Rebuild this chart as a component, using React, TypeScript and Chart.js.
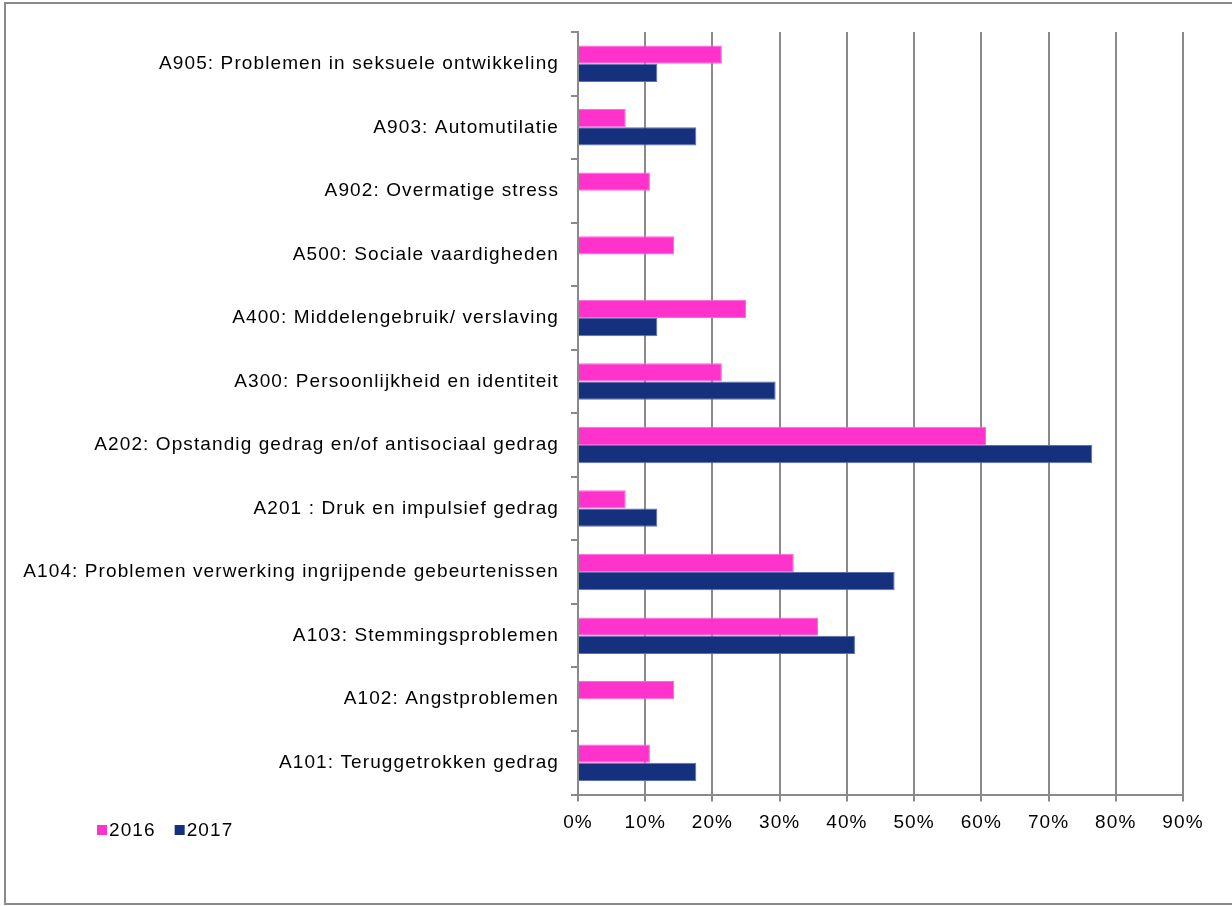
import React, { useEffect, useRef } from "react";
import { Chart, registerables } from "chart.js";

Chart.register(...registerables);

const categories = [
  "A905: Problemen in seksuele ontwikkeling",
  "A903: Automutilatie",
  "A902: Overmatige stress",
  "A500: Sociale vaardigheden",
  "A400: Middelengebruik/ verslaving",
  "A300: Persoonlijkheid en identiteit",
  "A202: Opstandig gedrag en/of antisociaal gedrag",
  "A201 : Druk en impulsief gedrag",
  "A104: Problemen verwerking ingrijpende gebeurtenissen",
  "A103: Stemmingsproblemen",
  "A102: Angstproblemen",
  "A101: Teruggetrokken gedrag",
];

const values2016 = [21.4, 7.1, 10.7, 14.3, 25.0, 21.4, 60.7, 7.1, 32.1, 35.7, 14.3, 10.7];
const values2017 = [11.8, 17.6, 0, 0, 11.8, 29.4, 76.5, 11.8, 47.1, 41.2, 0, 17.6];

const seriesLabels = ["2016", "2017"];
const xTicks = [0, 10, 20, 30, 40, 50, 60, 70, 80, 90];

const PINK = "#FF33CC";
const NAVY = "#15307C";
const FONT = "'Liberation Sans', Arial, sans-serif";
const SPACING = "1.1px";

export default function App() {
  const ref = useRef<HTMLCanvasElement | null>(null);

  useEffect(() => {
    document.body.style.margin = "0";
    const canvas = ref.current;
    if (!canvas) return;

    const framePlugin = {
      id: "frame",
      beforeDraw(chart: any) {
        const ctx = chart.ctx;
        ctx.save();
        ctx.fillStyle = "#ffffff";
        ctx.fillRect(0, 0, chart.width, chart.height);
        ctx.strokeStyle = "#8a8a8a";
        ctx.lineWidth = 2;
        ctx.strokeRect(5, 3, chart.width + 10, 901);
        ctx.restore();
        (ctx as any).letterSpacing = SPACING;
      },
      afterDraw(chart: any) {
        const ctx = chart.ctx;
        ctx.save();
        (ctx as any).letterSpacing = SPACING;
        ctx.font = `19px ${FONT}`;
        ctx.textBaseline = "middle";
        let x = 97;
        const y = 830;
        chart.data.datasets.forEach((ds: any) => {
          ctx.fillStyle = ds.backgroundColor;
          ctx.fillRect(x, y - 5, 10, 10);
          ctx.fillStyle = "#000";
          ctx.textAlign = "left";
          ctx.fillText(ds.label, x + 12, y + 1);
          x += 12 + ctx.measureText(ds.label).width + 19;
        });
        ctx.restore();
      },
    };

    const chart = new Chart(canvas, {
      type: "bar",
      data: {
        labels: categories,
        datasets: [
          {
            label: seriesLabels[0],
            data: values2016,
            backgroundColor: PINK,
            borderColor: "#FF66DD",
            borderWidth: 1,
            barPercentage: 1,
            categoryPercentage: 0.575,
          },
          {
            label: seriesLabels[1],
            data: values2017,
            backgroundColor: NAVY,
            borderColor: "#5A6FB0",
            borderWidth: 1,
            barPercentage: 1,
            categoryPercentage: 0.575,
          },
        ],
      },
      options: {
        indexAxis: "y",
        animation: false,
        responsive: false,
        maintainAspectRatio: false,
        layout: { padding: { left: 0, top: 32, right: 49, bottom: 0 } },
        plugins: {
          legend: { display: false },
          tooltip: { enabled: false },
          title: { display: false },
        },
        scales: {
          x: {
            min: 0,
            max: 90,
            afterBuildTicks(scale: any) {
              scale.ticks = xTicks.map((v) => ({ value: v }));
            },
            afterFit(scale: any) {
              scale.height = 111.5;
            },
            grid: {
              color: "#8a8a8a",
              lineWidth: 2,
              tickLength: 7,
              drawTicks: true,
            },
            border: { display: true, color: "#8a8a8a", width: 2 },
            ticks: {
              color: "#000",
              font: { family: FONT, size: 19 },
              padding: 10,
              callback: (v: any) => `${v}%`,
            },
          },
          y: {
            afterFit(scale: any) {
              scale.width = 578;
            },
            grid: {
              display: true,
              drawOnChartArea: false,
              color: "#8a8a8a",
              lineWidth: 2,
              tickLength: 7,
              offset: true,
            },
            border: { display: true, color: "#8a8a8a", width: 2 },
            ticks: {
              color: "#000",
              font: { family: FONT, size: 19 },
              padding: 12,
              autoSkip: false,
            },
          },
        },
      },
      plugins: [framePlugin],
    } as any);

    return () => chart.destroy();
  }, []);

  return (
    <div style={{ position: "absolute", left: 0, top: 0, width: 1232, height: 906 }}>
      <canvas ref={ref} width={1232} height={906} style={{ width: 1232, height: 906 }} />
    </div>
  );
}
